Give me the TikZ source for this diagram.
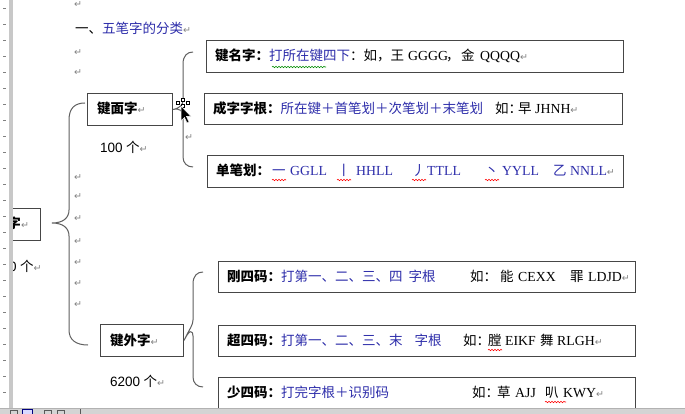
\documentclass[tikz,border=0pt]{standalone}
\usepackage{fontspec}
\setmainfont{Liberation Serif}
\newfontfamily\cjk{Noto Sans CJK SC}
\newfontfamily\djv{DejaVu Sans}
\newfontfamily\lsans{Liberation Sans}
\usetikzlibrary{decorations.pathmorphing}
\definecolor{zhblue}{RGB}{45,45,170}
\definecolor{boxline}{RGB}{70,70,70}
\definecolor{bracecol}{RGB}{95,95,95}
\definecolor{pmcol}{RGB}{130,130,130}
\definecolor{rulergray}{RGB}{200,200,200}
\definecolor{barcol}{RGB}{212,212,212}
\newcommand\pmk{{\djv\fontsize{9.5}{9.5}\selectfont\color{pmcol}↵}}
\newcommand\zh[1]{{\cjk #1}}
\newcommand\zhb[1]{{\cjk\bfseries #1}}
\newcommand\bl[1]{{\color{zhblue}#1}}
\newcommand\lt[1]{{\fontsize{13.8}{15}\selectfont #1}}
\begin{document}
\begin{tikzpicture}[x=1pt,y=-1pt,
  every node/.style={inner sep=0pt, font=\fontsize{13.5}{15}\selectfont},
  box/.style={draw=boxline, line width=1pt, rectangle, anchor=north west},
  seg/.style={anchor=base west},
  brace/.style={draw=bracecol, line width=1pt},
  pmark/.style={anchor=base west, font=\djv\fontsize{9.5}{9.5}\selectfont, text=pmcol},
  spell/.style={decorate, decoration={snake, amplitude=0.7pt, segment length=3pt}, line width=0.6pt}]
\useasboundingbox (0,0) rectangle (685,414);
\begin{scope}
\clip (0,0) rectangle (685,414);
\fill[white] (0,0) rectangle (685,414);

% title
\node[seg] (title) at (75,34) {\zh{一、}\bl{\zh{五笔字的分类}}\pmk};

% paragraph marks in left column
\foreach \yy [count=\i] in {8,56,76,181,200,222,244,265,286,307}
  \node[pmark] (pm\i) at (74,\yy) {↵};
\node[pmark] (pmb) at (185,141) {↵};

% left (cut) box
\node[box, minimum width=100pt, minimum height=32pt] (root) at (-60,208) {};
\node[anchor=base east] (roottxt) at (21,229) {\zhb{字}};
\node[pmark] (rootpm) at (21,229) {↵};
\node[seg] (rootnum) at (9,271) {{\lsans 0} \zh{个}\pmk};

% big brace
\coordinate (bt) at (85,103);
\coordinate (bb) at (88,345);
\draw[brace] (bt) .. controls (75,103) and (69,108) .. (69,120) -- (69,210)
  .. controls (69,218) and (63,223) .. (52,223)
  .. controls (63,223) and (69,228) .. (69,236) -- (69,330)
  .. controls (69,340) and (76,345) .. (bb);

% key-face box
\node[box, minimum width=85pt, minimum height=32pt] (jm) at (87,93) {};
\node[seg] (jmtxt) at (97,114) {\zhb{键面字}\pmk};
\node[seg] (jmnum) at (100,153) {{\lsans 100} \zh{个}\pmk};

% key-out box
\node[box, minimum width=83pt, minimum height=32pt] (jw) at (100,324) {};
\node[seg] (jwtxt) at (110,345) {\zhb{键外字}\pmk};
\node[seg] (jwnum) at (110,386) {{\lsans 6200} \zh{个}\pmk};

% upper small brace
\draw[brace] (193,52) .. controls (187,52) and (183,56) .. (183,64) -- (183,100)
  .. controls (183,105) and (180,108) .. (jm.east)
  .. controls (180,108) and (183,111) .. (183,116) -- (183,157)
  .. controls (183,163) and (187,167) .. (193,167);

% lower small brace
\draw[brace] (203,272) .. controls (197,272) and (193,276) .. (193,284) -- (193,320)
  .. controls (193,325) and (190,328) .. (jw.east)
  .. controls (190,328) and (193,331) .. (193,336) -- (193,377)
  .. controls (193,383) and (197,387) .. (203,387);

% right boxes
\node[box, minimum width=417pt, minimum height=32pt] (b1) at (206,40) {};
\node[box, minimum width=418pt, minimum height=31pt] (b2) at (204,93) {};
\node[box, minimum width=416pt, minimum height=32pt] (b3) at (207,155) {};
\node[box, minimum width=417pt, minimum height=31pt] (b4) at (218,261) {};
\node[box, minimum width=417pt, minimum height=31pt] (b5) at (218,325) {};
\node[box, minimum width=417pt, minimum height=31pt] (b6) at (218,377) {};

% box 1
\node[seg] (t1a) at (215,61) {\zhb{键名字：}\bl{\zh{打所在键四下}}\zh{：如，王}};
\node[seg] (t1b) at (408,61) {\lt{GGGG}};
\node[seg] (t1c) at (446,61) {\zh{，}};
\node[seg] (t1d) at (461,61) {\zh{金}};
\node[seg] (t1e) at (480,61) {\lt{QQQQ}\pmk};
\draw[spell, green!55!black] (272,67) -- (326,67);
% box 2
\node[seg] (t2a) at (213,113.5) {\zhb{成字字根：}\bl{\zh{所在键＋首笔划＋次笔划＋末笔划}}};
\node[seg] (t2b) at (495,113.5) {\zh{如：}};
\node[seg] (t2c) at (518,113.5) {\zh{早}};
\node[seg] (t2d) at (535,113.5) {\lt{JHNH}\pmk};
% box 3
\node[seg] (t3a) at (216,176) {\zhb{单笔划：}};
\node[seg] (t3b) at (272,176) {\bl{\zh{一}}};
\node[seg] (t3c) at (290,176) {\bl{\lt{GGLL}}};
\node[seg] (t3d) at (337,176) {\bl{\zh{丨}}};
\node[seg] (t3e) at (356,176) {\bl{\lt{HHLL}}};
\node[seg] (t3f) at (412,176) {\bl{\zh{丿}}};
\node[seg] (t3g) at (427,176) {\bl{\lt{TTLL}}};
\node[seg] (t3h) at (485,176) {\bl{\zh{丶}}};
\node[seg] (t3i) at (502,176) {\bl{\lt{YYLL}}};
\node[seg] (t3j) at (553,176) {\bl{\zh{乙}}};
\node[seg] (t3k) at (570,176) {\bl{\lt{NNLL}}\pmk};
\foreach \xx in {272,337,412,485}
  \draw[spell, red] (\xx,180) -- ++(14,0);
% box 4
\node[seg] (t4a) at (227,281.5) {\zhb{刚四码：}\bl{\zh{打第一、二、三、四\hspace{6pt}字根}}};
\node[seg] (t4b) at (470,281.5) {\zh{如：}};
\node[seg] (t4c) at (500,281.5) {\zh{能}};
\node[seg] (t4d) at (518,281.5) {\lt{CEXX}};
\node[seg] (t4e) at (570,281.5) {\zh{罪}};
\node[seg] (t4f) at (588,281.5) {\lt{LDJD}\pmk};
% box 5
\node[seg] (t5a) at (227,345.5) {\zhb{超四码：}\bl{\zh{打第一、二、三、末\hspace{12pt}字根}}};
\node[seg] (t5b) at (463,345.5) {\zh{如：}};
\node[seg] (t5c) at (488,345.5) {\zh{膛}};
\node[seg] (t5d) at (505,345.5) {\lt{EIKF}};
\node[seg] (t5e) at (540,345.5) {\zh{舞}};
\node[seg] (t5f) at (557,345.5) {\lt{RLGH}\pmk};
\draw[spell, red] (488,350) -- (502,350);
% box 6
\node[seg] (t6a) at (227,397.5) {\zhb{少四码：}\bl{\zh{打完字根＋识别码}}};
\node[seg] (t6b) at (472,397.5) {\zh{如：}};
\node[seg] (t6c) at (497,397.5) {\zh{草}};
\node[seg] (t6d) at (515,397.5) {\lt{AJJ}};
\node[seg] (t6e) at (545,397.5) {\zh{叭}};
\node[seg] (t6f) at (563,397.5) {\lt{KWY}\pmk};
\draw[spell, red] (545,402) -- (566,402);

% mouse cursor
\draw[black, line width=0.5pt, fill=white] (176,101) rectangle (179,104);
\draw[black, line width=0.5pt, fill=white] (181,98) rectangle (184,101);
\draw[black, line width=0.5pt, fill=white] (181,104) rectangle (184,107);
\draw[black, line width=0.5pt, fill=white] (186,101) rectangle (189,104);
\filldraw[fill=black, draw=white, line width=0.5pt] (181,106) -- (181,121) -- (184.5,117.5)
  -- (187,123) -- (189,122) -- (186.5,116.5) -- (191,116.5) -- cycle;

% left ruler
\fill[white] (0,0) rectangle (9,414);
\fill[rulergray] (9,0) rectangle (13,414);
\foreach \yy in {8,24,40,56,72,88,104,120,136,152,168,184,200,216,232,248,264,280,296,312,328,344,360,376,392}
  \draw[gray, line width=0.6pt] (3,\yy) -- (6,\yy);

% bottom status bar
\fill[barcol] (0,408) rectangle (685,414);
\draw[gray!60] (0,408) -- (685,408);
\draw[gray!70!black, line width=0.5pt] (10,410) rectangle (17,414);
\draw[blue!50!black, line width=0.5pt, fill=blue!15] (22,409.5) rectangle (32,414);
\draw[gray!70!black, line width=0.5pt] (44,410) rectangle (51,414);
\draw[gray!70!black, line width=0.5pt] (57,410) rectangle (64,414);
\draw[gray!70!black, line width=0.5pt] (80,409) -- (80,414);
\end{scope}
\end{tikzpicture}
\end{document}
